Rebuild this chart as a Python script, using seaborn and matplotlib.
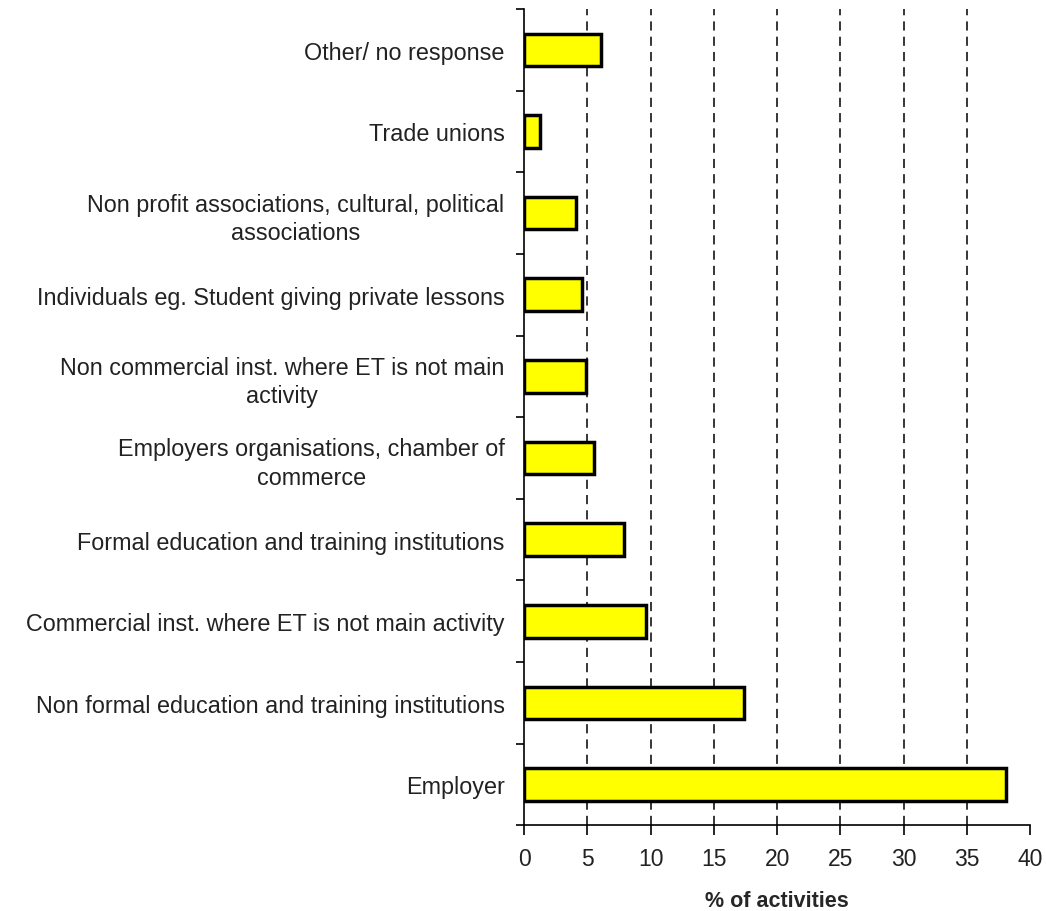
import numpy as np
import pandas as pd
import matplotlib
matplotlib.use("Agg")
import matplotlib.pyplot as plt
import seaborn as sns

# providers of training activities, top to bottom as drawn
categories = [
    "Other/ no response",
    "Trade unions",
    "Non profit associations, cultural, political\nassociations",
    "Individuals eg. Student giving private lessons",
    "Non commercial inst. where ET is not main\nactivity",
    "Employers organisations, chamber of\ncommerce",
    "Formal education and training institutions",
    "Commercial inst. where ET is not main activity",
    "Non formal education and training institutions",
    "Employer",
]
values = [6.1, 1.3, 4.1, 4.6, 4.9, 5.5, 7.9, 9.6, 17.4, 38.1]
xticks = [0, 5, 10, 15, 20, 25, 30, 35, 40]

df = pd.DataFrame({"provider": categories, "pct": values})

sns.set_style("white")
plt.rcParams["font.family"] = ["Liberation Sans", "DejaVu Sans"]

fig = plt.figure(figsize=(10.46, 9.12), dpi=100)
ax = fig.add_axes([0.501, 0.094, 0.484, 0.895])

# dashed grid behind the bars
for x in xticks[1:-1]:
    ax.axvline(x, color="black", linestyle=(0, (6, 4)), linewidth=1.1, zorder=0)

sns.barplot(data=df, x="pct", y="provider", orient="h", color="#FFFF00",
            edgecolor="black", linewidth=2.5, width=0.4, saturation=1, ax=ax, zorder=2)

ax.set_xlim(0, 40)
ax.set_ylim(9.5, -0.5)
ax.set_xticks(xticks)
ax.set_xticklabels([str(x) for x in xticks], fontsize=16.5, color="#222222")

# category labels at centres, tick marks at the boundaries
ax.set_yticks(np.arange(len(categories)))
ax.set_yticklabels(categories, fontsize=16.8, color="#222222",
                   multialignment="center", linespacing=1.3)
ax.set_yticks(np.arange(-0.5, len(categories)), minor=True)
ax.tick_params(axis="y", which="major", left=False, length=0, pad=14)
ax.tick_params(axis="y", which="minor", left=True, length=6, width=1.2,
               direction="out", color="black")
ax.tick_params(axis="x", which="major", bottom=True, length=7, width=1.2,
               direction="out", color="black", pad=9)

ax.set_xlabel("% of activities", fontsize=15.5, fontweight="bold", labelpad=14)
ax.set_ylabel("")

sns.despine(ax=ax, top=True, right=True)
for s in ["left", "bottom"]:
    ax.spines[s].set_color("black")
    ax.spines[s].set_linewidth(1.2)

fig.savefig("out.png", dpi=100)
